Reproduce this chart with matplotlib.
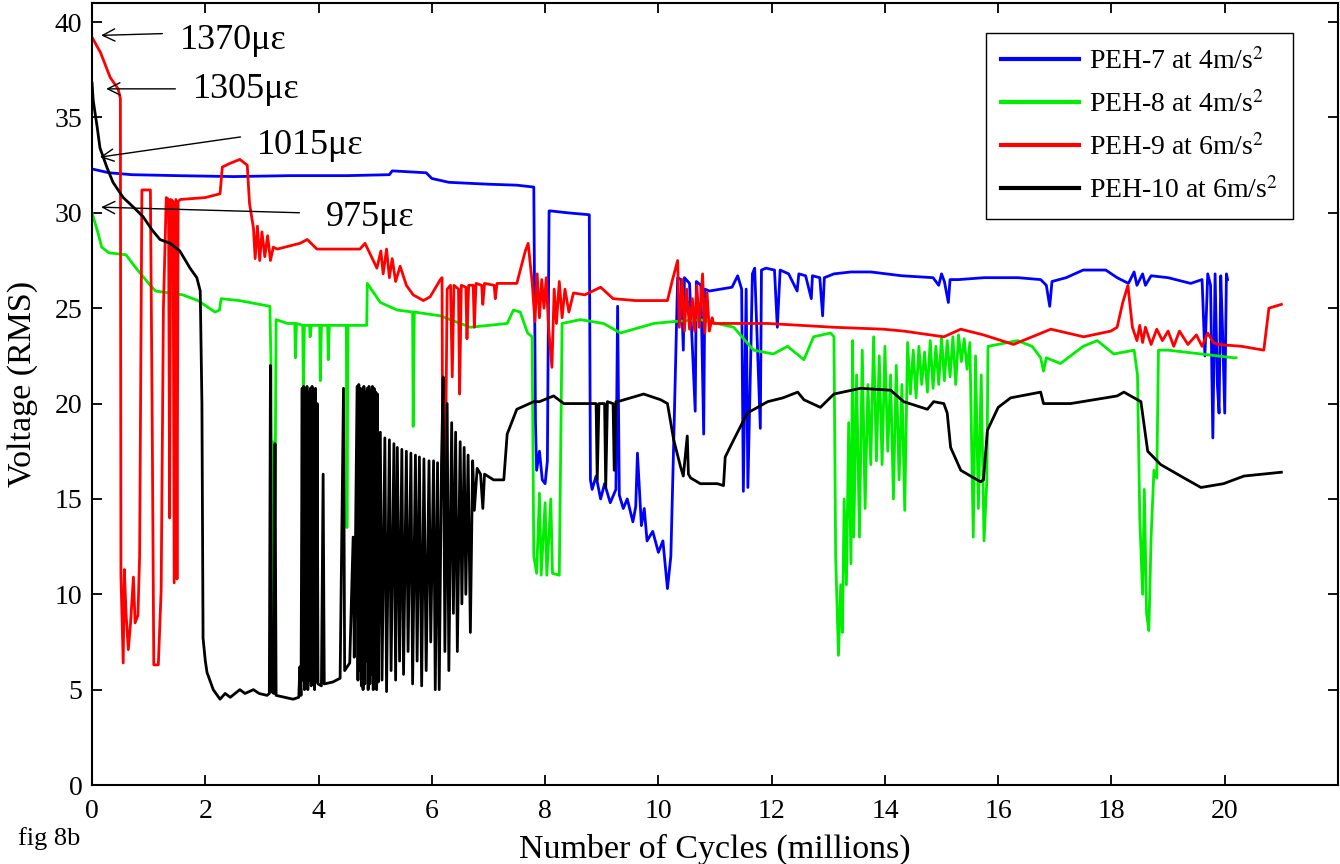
import matplotlib
matplotlib.use('Agg')
import matplotlib.pyplot as plt

plt.rcParams['font.family'] = ['Liberation Serif', 'DejaVu Serif']
plt.rcParams['mathtext.fontset'] = 'stix'

# PEH-7 at 4 m/s^2 (blue)
x7 = [0, 0.3, 0.7, 1.5, 2.5, 3.5, 4.5, 5.25, 5.3, 5.9, 6.0, 6.3, 7.0, 7.5, 7.8,
      7.83, 7.85, 7.9, 7.95, 8.0, 8.04, 8.07, 8.1, 8.4, 8.78, 8.8, 8.83, 8.9, 8.98,
      9.05, 9.15, 9.25, 9.28, 9.31, 9.38, 9.45, 9.55, 9.6, 9.63, 9.7, 9.75, 9.8, 9.9,
      10.0, 10.08, 10.16, 10.22, 10.27, 10.34, 10.4, 10.44, 10.46, 10.55, 10.65, 10.67,
      10.75, 10.8, 10.82, 10.9, 11.1, 11.3, 11.4, 11.47, 11.5, 11.55, 11.58, 11.63,
      11.66, 11.7, 11.8, 11.82, 11.9, 12.05, 12.1, 12.15, 12.3, 12.45, 12.48, 12.6,
      12.7, 12.72, 12.85, 12.9, 12.93, 13.1, 13.4, 13.75, 14.3, 14.85, 14.95, 15.0,
      15.05, 15.12, 15.15, 15.3, 15.75, 16.35, 16.75, 16.85, 16.91, 16.95, 17.2, 17.5,
      17.9, 18.1, 18.3, 18.4, 18.45, 18.55, 18.6, 18.7, 19.0, 19.4, 19.6, 19.65, 19.7,
      19.75, 19.79, 19.83, 19.87, 19.9, 19.93, 19.96, 20.0, 20.03, 20.05]
y7 = [32.3, 32.1, 32.0, 31.95, 31.9, 31.95, 31.95, 32.0, 32.2, 32.1, 31.8, 31.6, 31.5, 31.45, 31.35,
      19.0, 16.5, 17.5, 16.0, 15.8, 17.0, 30.1, 30.1, 30.0, 29.9, 16.0, 15.5, 16.2, 15.0,
      15.8, 14.8, 15.5, 25.1, 15.2, 14.5, 15.0, 13.8, 14.6, 17.4, 13.6, 14.5, 12.8, 13.3,
      12.2, 12.8, 10.3, 12.0, 17.9, 26.6, 26.5, 22.8, 26.6, 26.3, 19.6, 26.4,
      26.2, 18.4, 26.0, 25.9, 26.0, 26.1, 26.7, 26.0, 15.4, 26.0, 15.6, 22.4,
      26.8, 27.1, 18.7, 27.0, 27.1, 27.0, 24.0, 27.0, 26.8, 25.9, 26.8, 26.7,
      25.5, 26.7, 26.6, 24.6, 26.6, 26.8, 26.9, 26.9, 26.7, 26.6, 26.2, 26.8,
      26.4, 25.3, 26.5, 26.5, 26.6, 26.6, 26.5, 26.2, 25.1, 26.4, 26.6, 27.0,
      27.0, 26.6, 26.3, 26.9, 26.2, 26.8, 26.2, 26.7, 26.6, 26.3, 26.5, 22.5, 26.8,
      26.2, 18.2, 26.8, 21.0, 19.5, 26.7, 24.0, 19.5, 26.8, 26.5]

# PEH-8 at 4 m/s^2 (green)
x8 = [0, 0.1, 0.17, 0.3, 0.6, 0.75, 1.0, 1.12, 1.6, 1.87, 2.17, 2.25, 2.28, 2.6, 3.14,
      3.16, 3.18, 3.2, 3.22, 3.25, 3.45, 3.58, 3.59, 3.61, 3.72, 3.73, 3.75, 3.84, 3.85,
      3.87, 4.02, 4.03, 4.05, 4.16, 4.17, 4.19, 4.49, 4.5, 4.52, 4.85, 4.86, 5.09, 5.39,
      5.66, 5.67, 5.69, 6.15, 6.68, 7.33, 7.44, 7.56, 7.69, 7.77, 7.8, 7.85, 7.9, 7.93,
      8.0, 8.03, 8.1, 8.13, 8.25, 8.3, 8.62, 9.03, 9.33, 9.92, 10.27, 10.74, 11.33,
      11.68, 12.03, 12.28, 12.57, 12.74, 13.04, 13.1, 13.13, 13.18, 13.22, 13.25, 13.28,
      13.32, 13.36, 13.4, 13.43, 13.45, 13.5, 13.55, 13.6, 13.65, 13.7, 13.75, 13.8,
      13.85, 13.9, 13.95, 14.0, 14.05, 14.1, 14.15, 14.2, 14.25, 14.3, 14.35, 14.4,
      14.45, 14.5, 14.55, 14.6, 14.65, 14.7, 14.75, 14.8, 14.85, 14.9, 14.95, 15.0,
      15.05, 15.1, 15.15, 15.2, 15.25, 15.3, 15.35, 15.4, 15.45, 15.5, 15.56, 15.6,
      15.65, 15.7, 15.75, 15.8, 15.82, 16.34, 16.6, 16.75, 16.8, 16.85, 17.1, 17.5,
      17.75, 18.04, 18.4, 18.46, 18.5, 18.55, 18.58, 18.62, 18.66, 18.7, 18.75, 18.8,
      18.83, 19.0, 19.58, 20.16, 20.2]
y8 = [30.0, 29.0, 28.2, 27.9, 27.8, 27.2, 26.3, 25.9, 25.7, 25.4, 24.8, 24.9, 25.5, 25.4, 25.1,
      22.0, 7.0, 18.0, 9.0, 24.4, 24.2, 24.2, 22.4, 24.2, 24.1, 20.8, 24.1, 24.1, 23.5,
      24.1, 24.1, 21.2, 24.1, 24.1, 22.3, 24.1, 24.1, 13.5, 24.1, 24.1, 26.3, 25.3, 24.9,
      24.8, 18.8, 24.8, 24.6, 24.0, 24.2, 24.9, 24.8, 23.7, 23.5, 12.0, 11.1, 15.3, 11.0,
      14.8, 11.0, 15.0, 11.1, 11.0, 24.2, 24.4, 24.2, 23.7, 24.2, 24.3, 24.4, 24.0,
      22.8, 22.6, 23.0, 22.3, 23.5, 23.7, 23.5, 12.0, 6.8, 10.5, 8.0, 15.0,
      10.5, 19.0, 11.6, 23.3, 13.0, 21.5, 13.0, 22.8, 14.5, 21.0, 16.8, 23.5,
      17.0, 22.5, 16.8, 23.0, 17.5, 21.5, 15.0, 22.0, 16.0, 21.0, 14.4, 23.2,
      20.5, 22.8, 20.3, 23.0, 21.0, 22.7, 20.6, 23.3, 20.8, 23.0, 21.0, 23.5,
      21.2, 23.3, 21.4, 23.5, 21.0, 23.6, 22.2, 23.4, 21.8, 23.2, 13.0, 22.5,
      14.5, 21.5, 12.8, 16.0, 23.0, 23.3, 23.0, 22.4, 21.7, 22.4, 22.1, 23.0,
      23.3, 22.6, 22.8, 21.5, 14.0, 10.0, 15.5, 9.0, 8.1, 13.0, 16.5, 16.1,
      22.8, 22.8, 22.6, 22.4, 22.4]

# PEH-9 at 6 m/s^2 (red)
x9 = [0, 0.15, 0.32, 0.46, 0.5, 0.51, 0.53, 0.55, 0.57, 0.6, 0.64, 0.68, 0.73, 0.76, 0.81,
      0.84, 0.88, 1.03, 1.06, 1.09, 1.17, 1.22, 1.26, 1.31, 1.35, 1.37, 1.39, 1.43, 1.45,
      1.48, 1.5, 1.52, 1.56, 2.0, 2.26, 2.3, 2.44, 2.61, 2.74, 2.78, 2.85, 2.88, 2.92,
      2.96, 3.0, 3.05, 3.1, 3.15, 3.2, 3.27, 3.67, 3.8, 3.97, 4.73, 4.82, 5.03, 5.1,
      5.14, 5.2, 5.25, 5.3, 5.36, 5.44, 5.55, 5.67, 5.85, 5.97, 6.15, 6.18, 6.19, 6.24,
      6.27, 6.33, 6.36, 6.39, 6.47, 6.49, 6.52, 6.6, 6.62, 6.65, 6.73, 6.75, 6.78, 6.88,
      6.9, 6.93, 7.1, 7.12, 7.15, 7.5, 7.65, 7.7, 7.77, 7.82, 7.86, 7.9, 7.94, 7.98,
      8.02, 8.06, 8.12, 8.16, 8.2, 8.25, 8.3, 8.35, 8.42, 8.5, 8.7, 8.98, 9.2, 9.6,
      10.16, 10.25, 10.34, 10.37, 10.42, 10.46, 10.5, 10.55, 10.6, 10.64, 10.68, 10.72,
      10.78, 10.82, 10.86, 10.9, 10.95, 10.97, 11.93, 12.5, 13.1, 13.97, 14.33, 15.04,
      15.34, 15.74, 16.27, 16.93, 17.51, 17.99, 18.1, 18.2, 18.29, 18.37, 18.45, 18.5,
      18.55, 18.6, 18.7, 18.8, 18.9, 19.0, 19.1, 19.2, 19.35, 19.5, 19.6, 19.7, 19.8,
      19.88, 20.3, 20.69, 20.78, 21.0]
y9 = [39.2, 38.4, 37.1, 36.5, 36.0, 11.0, 8.6, 6.4, 11.3, 9.0, 7.1, 8.5, 10.9, 8.5, 8.9,
      12.0, 31.2, 31.2, 20.0, 6.3, 6.3, 10.2, 25.0, 30.8, 30.7, 14.0, 30.7, 30.6, 10.6,
      30.7, 10.8, 30.6, 30.7, 30.8, 31.0, 32.4, 32.6, 32.8, 32.5, 30.5, 29.2, 27.6, 29.3,
      27.5, 29.0, 27.7, 28.8, 27.5, 28.2, 28.1, 28.4, 28.6, 28.1, 28.1, 28.4, 27.1, 28.0,
      26.8, 28.1, 26.6, 27.6, 26.4, 27.2, 26.2, 25.7, 25.4, 25.6, 26.5, 26.6, 16.9, 16.8,
      26.0, 26.2, 21.4, 26.2, 26.0, 20.5, 26.2, 26.1, 23.4, 26.2, 26.2, 24.0, 26.3, 26.2,
      25.2, 26.3, 26.2, 25.5, 26.3, 26.3, 28.0, 28.4, 26.4, 24.3, 26.8, 24.5, 26.5, 25.0,
      26.6, 24.0, 21.9, 26.0, 24.2, 26.4, 24.5, 26.0, 24.8, 25.8, 25.7, 26.1, 25.5, 25.4,
      25.4, 26.5, 27.5, 24.0, 26.5, 23.8, 26.0, 23.9, 25.5, 23.8, 26.2, 24.0,
      26.8, 23.7, 25.8, 23.8, 24.5, 24.2, 24.2, 24.1, 24.0, 23.9, 23.8, 23.5,
      23.9, 23.6, 23.1, 23.9, 23.5, 23.8, 24.0, 25.3, 26.2, 24.0, 23.3, 24.1,
      23.2, 24.0, 23.1, 23.9, 23.3, 23.8, 23.0, 23.8, 23.1, 23.6, 23.0, 23.7, 23.2,
      23.1, 23.0, 22.8, 25.0, 25.2]

# PEH-10 at 6 m/s^2 (black)
x10 = [0, 0.02, 0.09, 0.14, 0.26, 0.37, 0.55, 0.73, 0.9, 1.06, 1.2, 1.38, 1.55, 1.73, 1.85,
       1.91, 1.94, 1.96, 2.0, 2.03, 2.14, 2.26, 2.35, 2.44, 2.61, 2.7, 2.85, 2.95, 3.09,
       3.13, 3.15, 3.17, 3.21, 3.23, 3.25, 3.4, 3.55, 3.65, 3.67,
       3.69, 3.71, 3.72, 3.735, 3.75, 3.765, 3.78, 3.795, 3.81, 3.825, 3.84, 3.855, 3.87,
       3.885, 3.9, 3.915, 3.93, 3.945, 3.96, 3.975, 3.99,
       4.05, 4.08, 4.1, 4.25, 4.38, 4.44, 4.46, 4.55, 4.61, 4.63,
       4.68, 4.695, 4.71, 4.725, 4.74, 4.755, 4.77, 4.785, 4.8, 4.815, 4.83, 4.845, 4.86,
       4.875, 4.89, 4.905, 4.92, 4.935, 4.95, 4.965, 4.98, 4.995, 5.01, 5.025, 5.04, 5.055,
       5.09, 5.12, 5.17, 5.2, 5.25, 5.28, 5.33, 5.36, 5.39,
       5.43, 5.47, 5.5, 5.55, 5.58, 5.63, 5.66, 5.71, 5.74, 5.78, 5.82, 5.86, 5.9, 5.95,
       5.98, 6.03, 6.06, 6.1, 6.13, 6.17, 6.2, 6.23, 6.27, 6.3, 6.35, 6.38, 6.42, 6.45,
       6.5, 6.53, 6.57, 6.6, 6.64, 6.68, 6.72, 6.75, 6.8, 6.86, 6.9, 6.93, 7.09, 7.27,
       7.33, 7.5, 7.8, 7.9, 8.15, 8.33, 8.68, 8.9, 8.92, 8.95, 9.05, 9.07, 9.1, 9.2,
       9.22, 9.25, 9.28, 9.74, 10.04, 10.16, 10.27, 10.39, 10.44, 10.51, 10.53, 10.57,
       10.74, 11.04, 11.15, 11.18, 11.33, 11.57, 11.93, 12.2, 12.46, 12.57, 12.86, 13.1,
       13.57, 14.1, 14.33, 14.75, 14.86, 15.04, 15.1, 15.16, 15.34, 15.57, 15.69, 15.74,
       15.81, 16.0, 16.22, 16.75, 16.8, 17.28, 18.1, 18.22, 18.52, 18.64, 18.87, 19.28,
       19.58, 19.98, 20.34, 21.0]
y10 = [36.8, 35.9, 34.5, 33.4, 32.4, 31.6, 30.8, 30.3, 29.8, 29.1, 28.6, 28.4, 28.0, 27.1, 26.6,
       25.9, 20.0, 7.7, 6.5, 5.9, 5.0, 4.5, 4.8, 4.6, 5.0, 4.8, 5.0, 4.8, 4.7,
       4.8, 22.0, 4.9, 4.8, 17.9, 4.7, 4.6, 4.5, 4.6, 6.2,
       4.7, 20.8, 5.5, 20.9, 5.0, 20.8, 5.3, 20.9, 5.0, 20.6, 5.5, 20.8, 5.2,
       20.9, 5.3, 20.7, 5.0, 20.8, 5.4, 20.0, 5.3,
       5.2, 16.3, 5.3, 5.4, 5.6, 20.8, 6.0, 6.4, 13.0, 6.7,
       20.9, 5.5, 21.0, 6.0, 20.8, 5.2, 20.5, 5.0, 20.9, 5.3, 20.6, 6.5, 20.8,
       5.0, 20.9, 5.3, 20.7, 5.8, 20.9, 5.0, 20.8, 6.2, 20.6, 5.0, 20.5, 5.4,
       18.5, 5.5, 18.2, 4.9, 18.1, 6.0, 17.9, 5.5, 17.7,
       6.5, 17.6, 5.8, 17.5, 7.0, 17.4, 5.3, 17.3, 6.5, 17.2, 5.2, 17.1, 6.0, 17.0,
       7.5, 17.0, 5.0, 16.9, 5.0, 16.9, 21.4, 7.0, 20.0, 6.0, 19.0, 9.0, 18.5, 7.0,
       18.0, 9.5, 17.7, 10.0, 17.3, 8.0, 17.0, 14.4, 16.6, 16.3, 14.5, 16.3, 16.0, 16.0,
       18.4, 19.7, 20.1, 20.1, 20.4, 20.0, 20.0, 20.0, 16.0, 20.0, 20.0, 15.6, 20.1, 20.0,
       16.5, 20.1, 20.1, 20.5, 20.2, 20.0, 18.1, 16.7, 16.2, 18.3, 16.3, 16.1,
       15.8, 15.8, 15.7, 17.2, 18.1, 19.5, 20.1, 20.3, 20.6, 20.2, 19.8, 20.5,
       20.8, 20.7, 20.1, 19.7, 20.1, 20.0, 19.5, 17.7, 16.5, 16.1, 15.9, 16.0,
       18.6, 19.8, 20.3, 20.6, 20.0, 20.0, 20.4, 20.6, 20.1, 17.5, 16.8, 16.1,
       15.6, 15.8, 16.2, 16.4]

series_labels = [r'PEH-7 at 4m/s$^2$', r'PEH-8 at 4m/s$^2$',
                 r'PEH-9 at 6m/s$^2$', r'PEH-10 at 6m/s$^2$']
series_colors = ['#0000ff', '#00ee00', '#ff0000', '#000000']

# strain annotations: label, arrow tip, arrow tail
strain_labels = ['1370\u03bc\u03b5', '1305\u03bc\u03b5', '1015\u03bc\u03b5', '975\u03bc\u03b5']
arrow_tips = [(0.11, 39.3), (0.2, 36.5), (0.09, 32.9), (0.11, 30.3)]
arrow_tails = [(1.29, 39.4), (1.52, 36.5), (2.67, 34.0), (3.71, 30.0)]
label_pos = [(1.55, 38.6), (1.78, 36.0), (2.91, 33.1), (4.12, 29.3)]

fig = plt.figure(figsize=(13.4, 8.64), dpi=100)
ax = fig.add_axes([0.0687, 0.0914, 0.9298, 0.9051])

for xs, ys, lab, col in zip([x7, x8, x9, x10], [y7, y8, y9, y10], series_labels, series_colors):
    ax.plot(xs, ys, color=col, lw=2.0, label=lab)

for lab, tip, tail, pos in zip(strain_labels, arrow_tips, arrow_tails, label_pos):
    ax.annotate('', xy=tip, xytext=tail,
                arrowprops=dict(arrowstyle='->', color='black', lw=1.0, mutation_scale=22))
    ax.text(pos[0], pos[1], lab, fontsize=26, ha='left', va='baseline')

ax.set_xlim(0, 22)
ax.set_ylim(0, 41)
ax.set_xticks(range(0, 21, 2))
ax.set_yticks(range(0, 41, 5))
ax.tick_params(direction='in', length=7, width=1.3, top=True, right=True, labelsize=20)
ax.tick_params(axis='x', pad=10)
ax.tick_params(axis='y', pad=7)
for sp in ax.spines.values():
    sp.set_linewidth(1.5)

ax.set_xlabel('Number of Cycles (millions)', fontsize=24.5)
ax.xaxis.set_label_coords(0.5, -0.0934)
ax.xaxis.label.set_va('baseline')
ax.set_ylabel('Voltage (RMS)', fontsize=24.5)
ax.yaxis.set_label_coords(-0.0554, 0.513)
ax.yaxis.label.set_va('center')

leg = ax.legend(loc='upper right', bbox_to_anchor=(0.964, 0.962), borderaxespad=0,
                fontsize=20, frameon=True, fancybox=False, edgecolor='black', framealpha=1,
                handlelength=2.8, labelspacing=0.58, borderpad=0.55, handletextpad=0.36)
leg.get_frame().set_linewidth(1.0)
for line in leg.get_lines():
    line.set_linewidth(3.0)

fig.text(18 / 1340, 1 - 845 / 864, 'fig 8b', fontsize=19, ha='left', va='baseline')

fig.savefig('out.png', dpi=100)
